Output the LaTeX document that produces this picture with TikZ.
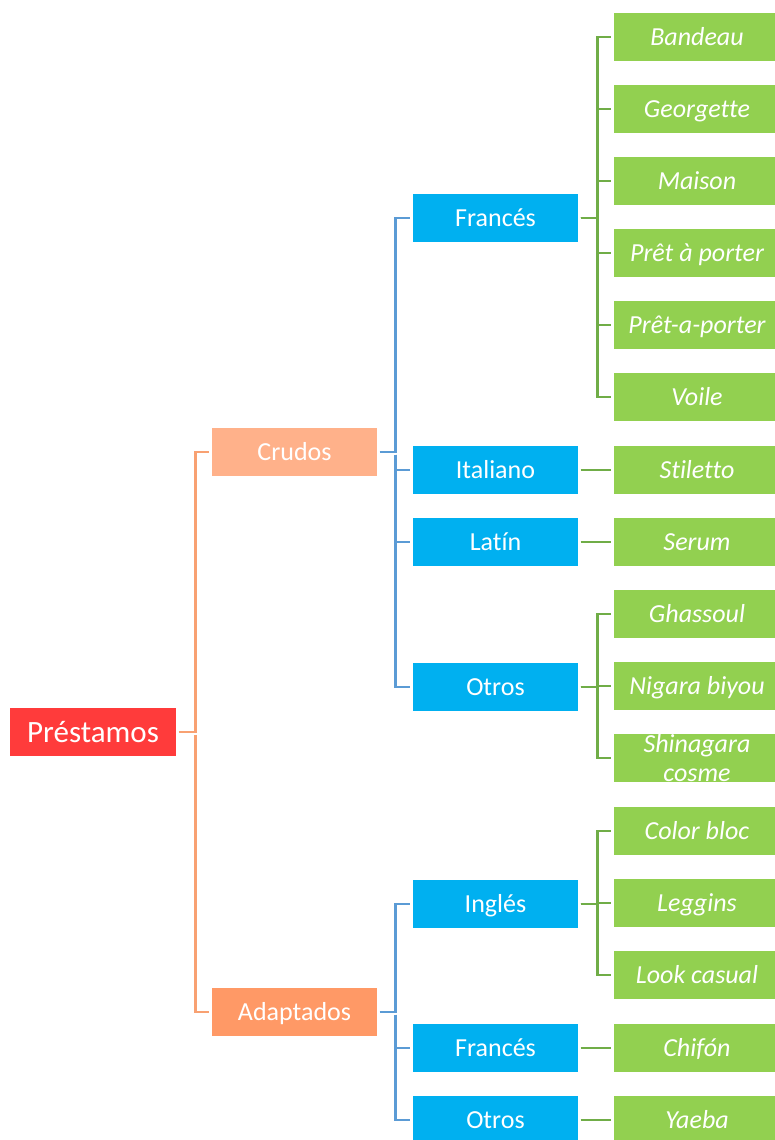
\documentclass[tikz,border=0pt]{standalone}
\usepackage{fontspec}
\setmainfont{Carlito}[Ligatures=NoCommon]

\definecolor{rootred}{HTML}{FF3B3B}
\definecolor{crudfill}{HTML}{FFB18A}
\definecolor{adapfill}{HTML}{FF9966}
\definecolor{langblue}{HTML}{00B0F0}
\definecolor{leafgreen}{HTML}{92D050}
\definecolor{orline}{HTML}{F8A172}
\definecolor{blline}{HTML}{5B9BD5}
\definecolor{grline}{HTML}{70AD47}

\begin{document}
\begin{tikzpicture}[x=1pt,y=-1pt,
  box/.style={text=white,inner sep=0pt,minimum height=48pt,text height=19pt,text depth=2pt,
    align=center,font=\fontsize{26}{30}\selectfont},
  rootbox/.style={box,fill=rootred,minimum width=166pt,text height=22pt,text depth=2pt,
    font=\fontsize{31}{34}\selectfont},
  grpbox/.style={box,minimum width=165pt},
  langbox/.style={box,fill=langblue,minimum width=165pt},
  leafbox/.style={box,fill=leafgreen,minimum width=166pt,font=\fontsize{26}{29}\selectfont\itshape},
  link/.style={line width=2.8pt,shorten <=2.5pt,shorten >=2.5pt},
  orlink/.style={link,orline},
  bllink/.style={link,blline},
  grlink/.style={link,grline}]
  \useasboundingbox (0,0) rectangle (775,1140);

  % root and groups
  \node[rootbox] (prest) at (93,732) {Préstamos};
  \node[grpbox,fill=crudfill] (crudos) at (294.5,452) {Crudos};
  \node[grpbox,fill=adapfill] (adapt) at (294.5,1012) {Adaptados};

  % languages
  \foreach \n/\y/\t in {cfr/218/Francés, cit/470/Italiano, cla/542/Latín, cot/687/Otros,
                        ain/904/Inglés, afr/1048/Francés, aot/1120/Otros}
    \node[langbox] (\n) at (495.5,\y) {\t};

  % words
  \foreach \n/\y/\t in {ban/37/Bandeau, geo/109/Georgette, mai/181/Maison,
                        pap/253/Prêt à porter, pgp/325/Prêt-a-porter, voi/397/Voile,
                        sti/470/Stiletto, ser/542/Serum,
                        gha/614/Ghassoul, nig/686/Nigara biyou,
                        col/831/Color bloc, leg/903/Leggins, loo/975/Look casual,
                        chi/1048/Chifón, yae/1120/Yaeba}
    \node[leafbox] (\n) at (697,\y) {\t};
  \node[leafbox,text height=,text depth=] (shi) at (697,758) {Shinagara\\cosme};

  % connectors
  \draw[orlink] (prest.east) -- ++(19,0) coordinate (ob) |- (crudos.west);
  \draw[orlink] (ob) |- (adapt.west);

  \draw[bllink] (crudos.east) -- ++(18,0) coordinate (cb) |- (cfr.west);
  \foreach \n in {cit,cla,cot}
    \draw[bllink] (cb) |- (\n.west);
  \draw[bllink] (adapt.east) -- ++(18,0) coordinate (ab) |- (ain.west);
  \foreach \n in {afr,aot}
    \draw[bllink] (ab) |- (\n.west);

  \foreach \s/\ls in {cfr/{ban,geo,mai,pap,pgp,voi}, cit/{sti}, cla/{ser},
                      cot/{gha,nig,shi}, ain/{col,leg,loo}, afr/{chi}, aot/{yae}}
    \foreach \n in \ls
      \draw[grlink] (\s.east) -- ++(19,0) |- (\n.west);
\end{tikzpicture}
\end{document}
